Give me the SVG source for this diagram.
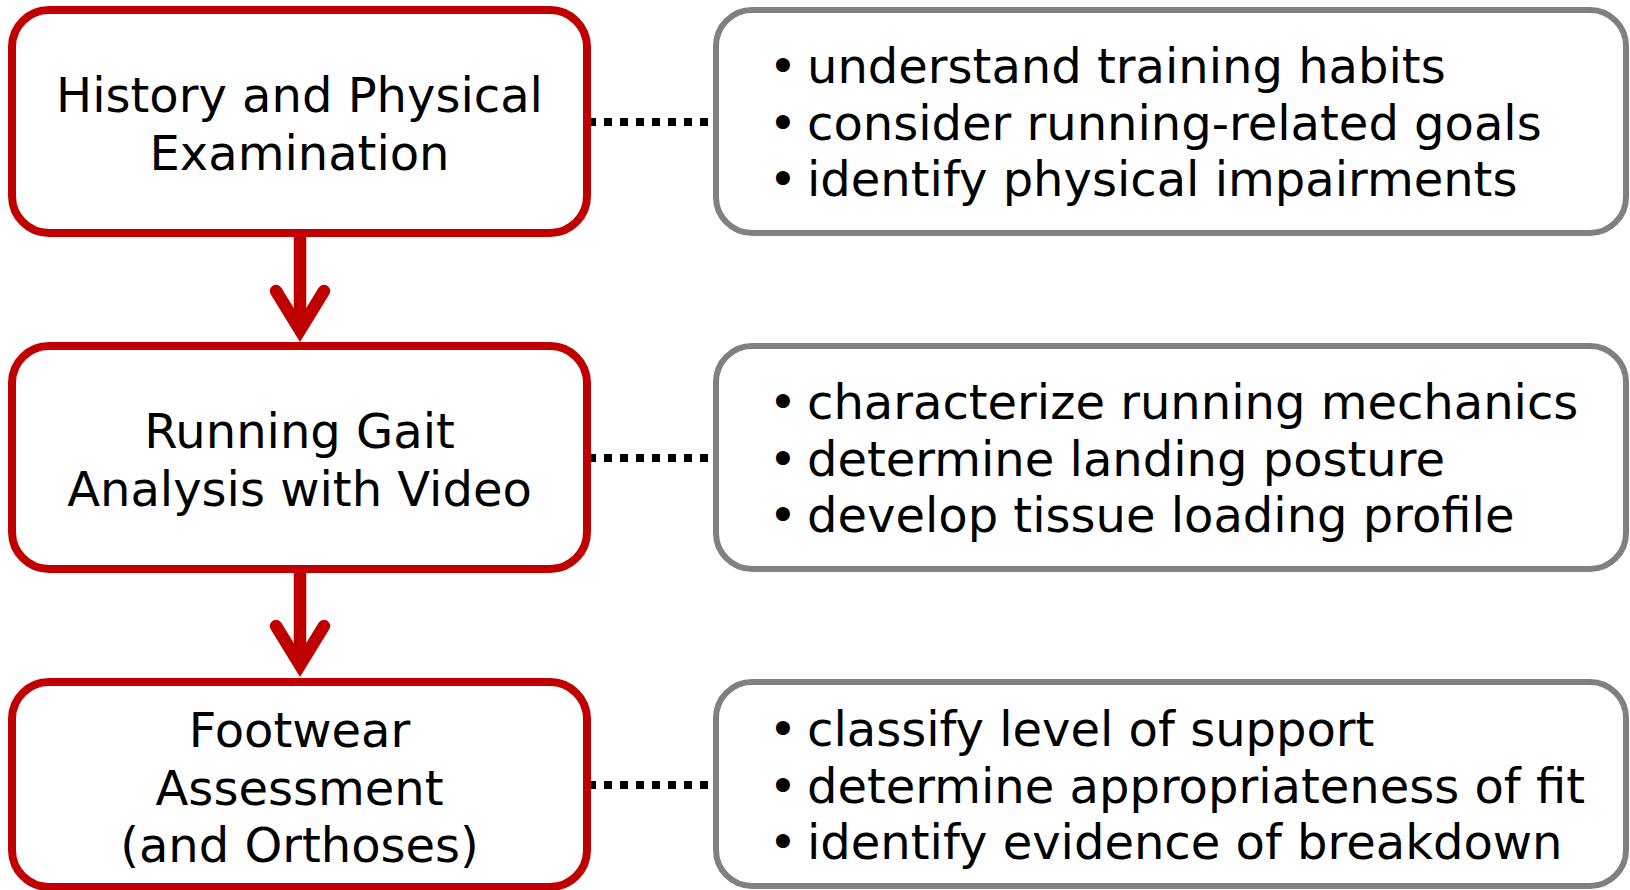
<svg xmlns="http://www.w3.org/2000/svg" width="1630" height="890" viewBox="0 0 1630 890">
<style>
.step{fill:#fff;stroke:#C00000;stroke-width:8}
.info{fill:#fff;stroke:#808080;stroke-width:6}
.t{font-family:"DejaVu Sans","Liberation Sans",sans-serif;font-size:48px;fill:#000}
.c{text-anchor:middle}
.flow{stroke:#C00000;stroke-width:12.5;fill:none}
.dot{stroke:#000;stroke-width:8;stroke-dasharray:8 8;fill:none}
</style>
<defs>
<marker id="ah" markerUnits="userSpaceOnUse" orient="auto" refX="0" refY="0" markerWidth="100" markerHeight="100" overflow="visible">
<path d="M-39,-24 L0,0 L-39,24" fill="none" stroke="#C00000" stroke-width="12.5" stroke-linecap="round" stroke-linejoin="miter"/>
</marker>
</defs>
<rect width="1630" height="890" fill="#fff"/>
<g id="connectors">
<line class="flow" x1="300" y1="233" x2="300" y2="330" marker-end="url(#ah)"/>
<line class="flow" x1="300" y1="569" x2="300" y2="665" marker-end="url(#ah)"/>
<line class="dot" x1="588" y1="122" x2="712" y2="122"/>
<line class="dot" x1="588" y1="458" x2="712" y2="458"/>
<line class="dot" x1="588" y1="785" x2="712" y2="785"/>
</g>
<g id="step1">
<rect class="step" x="12" y="10" width="575" height="223" rx="37"/>
<text class="t c" x="299.5" y="112">History and Physical</text>
<text class="t c" x="299.5" y="170">Examination</text>
</g>
<g id="step2">
<rect class="step" x="12" y="346" width="575" height="223" rx="37"/>
<text class="t c" x="299.5" y="448">Running Gait</text>
<text class="t c" x="299.5" y="506">Analysis with Video</text>
</g>
<g id="step3">
<rect class="step" x="12" y="682" width="575" height="205" rx="37"/>
<text class="t c" x="299.5" y="746.5">Footwear</text>
<text class="t c" x="299.5" y="804.5">Assessment</text>
<text class="t c" x="299.5" y="861.5">(and Orthoses)</text>
</g>
<g id="info1">
<rect class="info" x="716" y="10" width="910" height="223" rx="36"/>
<text class="t"><tspan class="c" x="783" y="83">•</tspan><tspan x="807" y="83">understand training habits</tspan></text>
<text class="t"><tspan class="c" x="783" y="139.5">•</tspan><tspan x="807" y="139.5">consider running-related goals</tspan></text>
<text class="t"><tspan class="c" x="783" y="196">•</tspan><tspan x="807" y="196">identify physical impairments</tspan></text>
</g>
<g id="info2">
<rect class="info" x="716" y="346" width="910" height="223" rx="36"/>
<text class="t"><tspan class="c" x="783" y="419">•</tspan><tspan x="807" y="419">characterize running mechanics</tspan></text>
<text class="t"><tspan class="c" x="783" y="475.5">•</tspan><tspan x="807" y="475.5">determine landing posture</tspan></text>
<text class="t"><tspan class="c" x="783" y="532">•</tspan><tspan x="807" y="532">develop tissue loading profile</tspan></text>
</g>
<g id="info3">
<rect class="info" x="716" y="682" width="910" height="204" rx="36"/>
<text class="t"><tspan class="c" x="783" y="746">•</tspan><tspan x="807" y="746">classify level of support</tspan></text>
<text class="t"><tspan class="c" x="783" y="802.5">•</tspan><tspan x="807" y="802.5">determine appropriateness of fit</tspan></text>
<text class="t"><tspan class="c" x="783" y="859">•</tspan><tspan x="807" y="859">identify evidence of breakdown</tspan></text>
</g>
</svg>
